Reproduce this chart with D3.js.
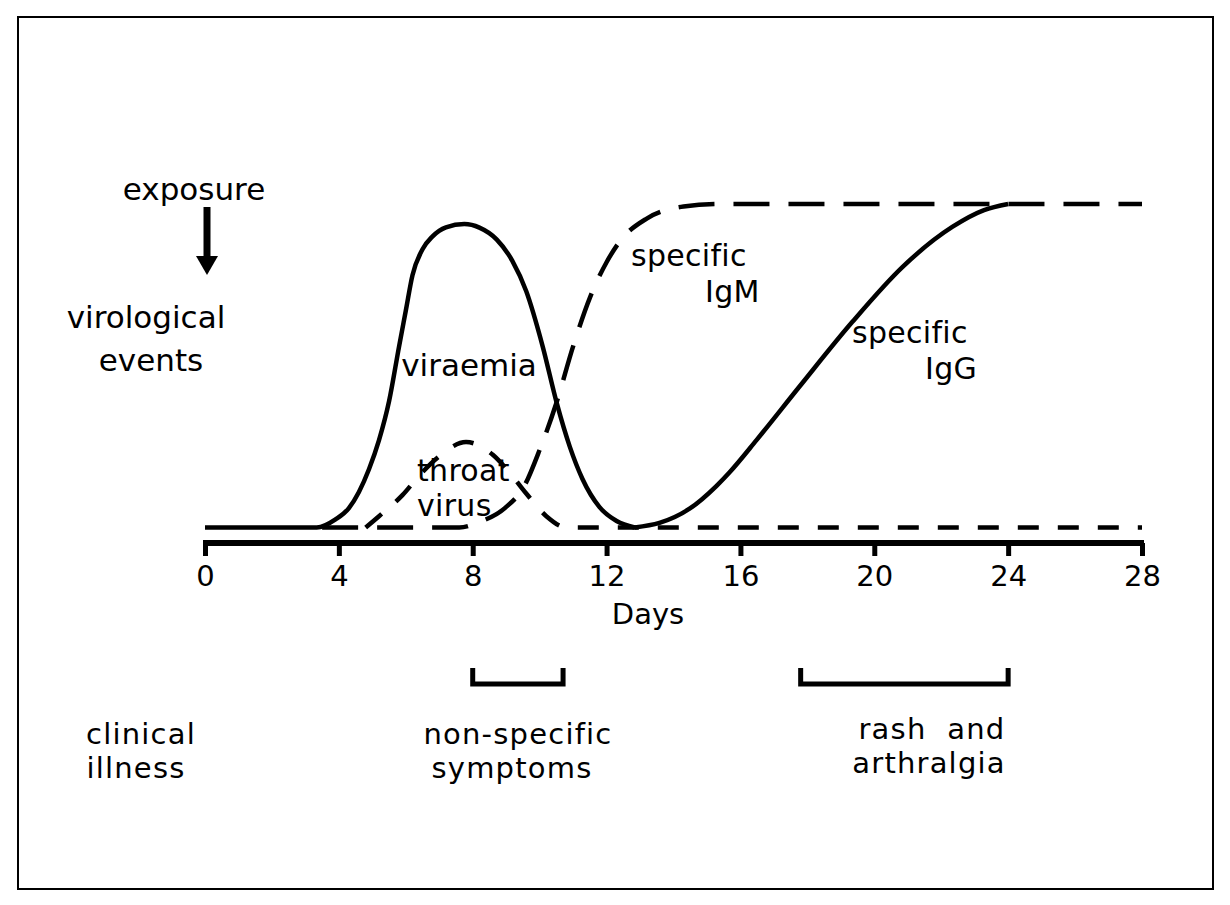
<!DOCTYPE html>
<html>
<head>
<meta charset="utf-8">
<script src="https://cdn.jsdelivr.net/npm/d3@7"></script>
<style>
  html, body { margin: 0; padding: 0; background: #fff; }
  svg { display: block; }
  text { font-family: "DejaVu Sans", sans-serif; fill: #000; }
</style>
</head>
<body>
<svg id="chart" width="1230" height="905"></svg>
<script>
// ---- data (days, relative level 0-100) ----
const tickDays = [0, 4, 8, 12, 16, 20, 24, 28];

const viraemiaDays   = [0, 3.34, 3.9, 4.3, 4.6, 4.9, 5.2, 5.5, 5.8, 6.0, 6.2, 6.5, 6.8, 7.2, 7.75, 8.2, 8.72, 9.18, 9.6, 10.09, 10.51, 10.9, 11.28, 11.79, 12.3, 12.84];
const viraemiaValues = [0, 0, 2.5, 6, 11, 18, 27, 39, 56, 67, 78, 86, 90, 92.8, 93.8, 92.7, 89, 82.5, 73, 56, 38.5, 25, 15, 6.3, 2, 0];

const iggDays   = [12.84, 13.58, 14.48, 15.28, 15.67, 16.48, 17.76, 19.34, 20.84, 22.33, 23.28, 24];
const iggValues = [0, 1.4, 5.8, 12.8, 17, 27, 43.5, 63.5, 80.5, 92.9, 98.1, 100];

const igmDays   = [3.5, 7.6, 8.2, 8.96, 9.55, 10.0, 10.5, 11.0, 11.5, 12.0, 12.4, 13.2, 14.3, 15.4, 28];
const igmValues = [0, 0, 1.7, 6.0, 13, 24, 38.5, 56, 71, 82, 88.5, 95.5, 99.2, 100, 100];

const throatDays   = [4.8, 5.2, 5.9, 6.4, 7.0, 7.8, 8.6, 9.1, 9.6, 10.2, 10.8, 28];
const throatValues = [0, 3.5, 10, 16, 22, 26.4, 22.5, 17, 10.5, 3.5, 0, 0];

const exposureDay = 0;
const symptomPeriods = [[8.0, 10.7], [17.8, 24.0]];

// ---- scales ----
const x = d3.scaleLinear().domain([0, 28]).range([205, 1142]);
const y = d3.scaleLinear().domain([0, 100]).range([527.5, 204]);

const svg = d3.select("#chart");

// border
svg.append("rect").attr("x", 18).attr("y", 17).attr("width", 1195).attr("height", 872)
  .attr("fill", "none").attr("stroke", "#000").attr("stroke-width", 2);

const line = d3.line().x(d => x(d[0])).y(d => y(d[1])).curve(d3.curveMonotoneX);
const zip = (a, b) => a.map((d, i) => [d, b[i]]);

// dashed series
svg.append("path").datum(zip(throatDays, throatValues)).attr("d", line)
  .attr("fill", "none").attr("stroke", "#000").attr("stroke-width", 4.5)
  .attr("stroke-dasharray", "21,19");
svg.append("path").datum(zip(igmDays, igmValues)).attr("d", line)
  .attr("fill", "none").attr("stroke", "#000").attr("stroke-width", 4.5)
  .attr("stroke-dasharray", "36,19");

// solid series
svg.append("path").datum(zip(viraemiaDays, viraemiaValues)).attr("d", line)
  .attr("fill", "none").attr("stroke", "#000").attr("stroke-width", 4.5);
svg.append("path").datum(zip(iggDays, iggValues)).attr("d", line)
  .attr("fill", "none").attr("stroke", "#000").attr("stroke-width", 4.5);

// axis
const axis = d3.axisBottom(x).tickValues(tickDays).tickSize(13).tickSizeOuter(0).tickPadding(9)
  .tickFormat(d3.format("d"));
const gAxis = svg.append("g").attr("transform", "translate(0,543)").call(axis);
gAxis.select(".domain").attr("stroke", "#000").attr("stroke-width", 6)
  .attr("d", `M${x(0) - 2},0H${x(28) + 2}`);
gAxis.selectAll(".tick line").attr("stroke", "#000").attr("stroke-width", 5);
gAxis.selectAll(".tick text").attr("font-size", 29).attr("font-family", "DejaVu Sans").attr("fill", "#000");

// exposure arrow
const ax = x(exposureDay) + 2;
svg.append("line").attr("x1", ax).attr("x2", ax).attr("y1", 207).attr("y2", 258)
  .attr("stroke", "#000").attr("stroke-width", 7);
svg.append("path").attr("d", `M${ax - 11},256L${ax + 11},256L${ax},275Z`).attr("fill", "#000");

// symptom brackets
symptomPeriods.forEach(p => {
  svg.append("path")
    .attr("d", `M${x(p[0])},668V684H${x(p[1])}V668`)
    .attr("fill", "none").attr("stroke", "#000").attr("stroke-width", 5);
});

// labels: each is one text element; lines are [string, x, y]
const labels = [
  {anchor: "middle", size: 31, ls: 0, lines: [["exposure", 194, 200]]},
  {anchor: "middle", size: 31, ls: 0, lines: [["virological", 146, 328], ["events", 151, 371]]},
  {anchor: "middle", size: 31, ls: 0, lines: [["viraemia", 469, 376]]},
  {anchor: "start",  size: 30, ls: 0.3, lines: [["throat", 417, 481], ["virus", 417, 516]]},
  {anchor: "start",  size: 30, ls: 0.3, lines: [["specific", 631, 266], ["IgM", 705, 302]]},
  {anchor: "start",  size: 30, ls: 0.3, lines: [["specific", 852, 343], ["IgG", 925, 379]]},
  {anchor: "middle", size: 29, ls: 0, lines: [["Days", 648, 624]]},
  {anchor: "middle", size: 29, ls: 1.2, lines: [["clinical", 141, 744], ["illness", 136, 778]]},
  {anchor: "middle", size: 29, ls: 1.2, lines: [["non-specific", 518, 744], ["symptoms", 512, 778]]},
  {anchor: "middle", size: 29, ls: 1.2, lines: [["rash  and", 932, 739], ["arthralgia", 929, 773]]}
];
const t = svg.selectAll("text.lbl").data(labels).enter().append("text")
  .attr("class", "lbl")
  .attr("text-anchor", d => d.anchor)
  .attr("font-size", d => d.size)
  .attr("letter-spacing", d => d.ls)
  .style("white-space", "pre");
t.selectAll("tspan").data(d => d.lines).enter().append("tspan")
  .attr("x", d => d[1]).attr("y", d => d[2])
  .text(d => d[0]);
</script>
</body>
</html>
